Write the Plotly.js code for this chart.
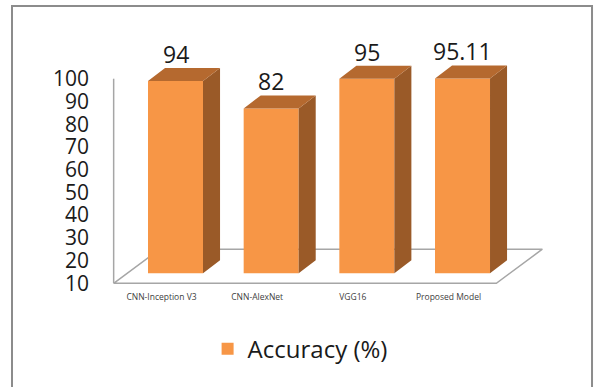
<!DOCTYPE html>
<html>
<head>
<meta charset="utf-8">
<script src="https://cdn.plot.ly/plotly-3.0.1.min.js"></script>
<style>
  html, body { margin: 0; padding: 0; background: #ffffff; }
  #chart { width: 594px; height: 387px; }
</style>
</head>
<body>
<div id="chart"></div>
<script>
// Model accuracy comparison
const categories = ['CNN-Inception V3', 'CNN-AlexNet', 'VGG16', 'Proposed Model'];
const accuracy = [94, 82, 95, 95.11];
const valueLabels = ['94', '82', '95', '95.11'];
const yTickValues = [10, 20, 30, 40, 50, 60, 70, 80, 90, 100];
const seriesName = 'Accuracy (%)';

// Pseudo-3D column styling
const FRONT = '#F79646';
const TOP = '#B5692F';
const SIDE = '#9A5A28';
const FLOOR_LINE = '#A6A6A6';
const AXIS_MIN = 10;      // columns rise from the axis minimum
const BAR_WIDTH = 0.575;  // front face width, in category units
const BAR_DX = 0.178;     // column depth, x2 units
const BAR_DY = 5.7;       // column depth, y2 units
const FLOOR_DX = 0.481;   // floor depth, x units
const FLOOR_DY = 15.0;    // floor depth, y units

const idx = categories.map((_, i) => i);
const half = BAR_WIDTH / 2;

// Floor outline and the vertical value wall edge (floor-front plane)
const n = categories.length;
const floorX = [-0.5, n - 0.5, n - 0.5 + FLOOR_DX, -0.5 + FLOOR_DX, -0.5, null, -0.5, -0.5];
const floorY = [AXIS_MIN, AXIS_MIN, AXIS_MIN + FLOOR_DY, AXIS_MIN + FLOOR_DY, AXIS_MIN, null, AXIS_MIN, 100];

// Side and top faces of each column (column front plane)
const sideX = [], sideY = [], topX = [], topY = [];
idx.forEach((i) => {
  const v = accuracy[i];
  const xl = i - half, xr = i + half;
  sideX.push(xr, xr, xr + BAR_DX, xr + BAR_DX, xr, null);
  sideY.push(AXIS_MIN, v, v + BAR_DY, AXIS_MIN + BAR_DY, AXIS_MIN, null);
  topX.push(xl, xr, xr + BAR_DX, xl + BAR_DX, xl, null);
  topY.push(v, v, v + BAR_DY, v + BAR_DY, v, null);
});

const traces = [
  {
    type: 'scatter', mode: 'lines', x: floorX, y: floorY,
    xaxis: 'x', yaxis: 'y',
    line: { color: FLOOR_LINE, width: 1.5 },
    showlegend: false, hoverinfo: 'skip'
  },
  {
    type: 'bar', name: seriesName,
    x: idx, y: accuracy.map(v => v - AXIS_MIN), base: AXIS_MIN,
    width: BAR_WIDTH,
    xaxis: 'x2', yaxis: 'y2',
    marker: { color: FRONT, line: { width: 0 } },
    showlegend: true
  },
  {
    type: 'scatter', mode: 'lines', x: sideX, y: sideY,
    xaxis: 'x2', yaxis: 'y2',
    fill: 'toself', fillcolor: SIDE, line: { width: 0, color: SIDE },
    showlegend: false, hoverinfo: 'skip'
  },
  {
    type: 'scatter', mode: 'lines', x: topX, y: topY,
    xaxis: 'x2', yaxis: 'y2',
    fill: 'toself', fillcolor: TOP, line: { width: 0, color: TOP },
    showlegend: false, hoverinfo: 'skip'
  }
];

const annotations = idx.map((i) => ({
  x: i, y: accuracy[i], xref: 'x2', yref: 'y2',
  text: valueLabels[i], showarrow: false,
  xanchor: 'center', yanchor: 'bottom', yshift: 9,
  font: { family: 'Open Sans, sans-serif', size: 23, color: '#1a1a1a' }
}));

const layout = {
  width: 594, height: 387,
  margin: { l: 100, r: 34, t: 50, b: 97 },
  paper_bgcolor: '#ffffff', plot_bgcolor: 'rgba(0,0,0,0)',
  font: { family: 'Open Sans, sans-serif' },
  showlegend: true,
  legend: {
    orientation: 'h', x: 0.435, xanchor: 'center', y: -0.246, yanchor: 'middle',
    itemwidth: 30,
    font: { family: 'Open Sans, sans-serif', size: 24, color: '#1a1a1a' },
    bgcolor: 'rgba(0,0,0,0)'
  },
  xaxis: {
    type: 'linear', range: [-0.6428, 4.1654],
    tickvals: idx, ticktext: categories, ticks: '',
    tickfont: { family: 'Open Sans, sans-serif', size: 8.5, color: '#404040' },
    showgrid: false, zeroline: false, showline: false, fixedrange: true
  },
  yaxis: {
    range: [7.05, 112.63],
    tickvals: yTickValues, ticks: '', ticklabelstandoff: 10,
    tickfont: { family: 'Open Sans, sans-serif', size: 21, color: '#1a1a1a' },
    showgrid: false, zeroline: false, showline: false, fixedrange: true
  },
  xaxis2: {
    type: 'linear', overlaying: 'x', range: [-0.7892, 4.0190],
    visible: false, fixedrange: true
  },
  yaxis2: {
    overlaying: 'y', range: [2.704, 107.55],
    visible: false, fixedrange: true
  },
  annotations: annotations,
  shapes: [{
    type: 'rect', xref: 'paper', yref: 'paper', layer: 'below',
    x0: -0.1913, x1: 1.0696, y0: -0.43, y1: 1.1833,
    line: { color: '#8C8C8C', width: 2 }, fillcolor: 'rgba(0,0,0,0)'
  }]
};

Plotly.newPlot('chart', traces, layout, { staticPlot: true, displayModeBar: false });
</script>
</body>
</html>
